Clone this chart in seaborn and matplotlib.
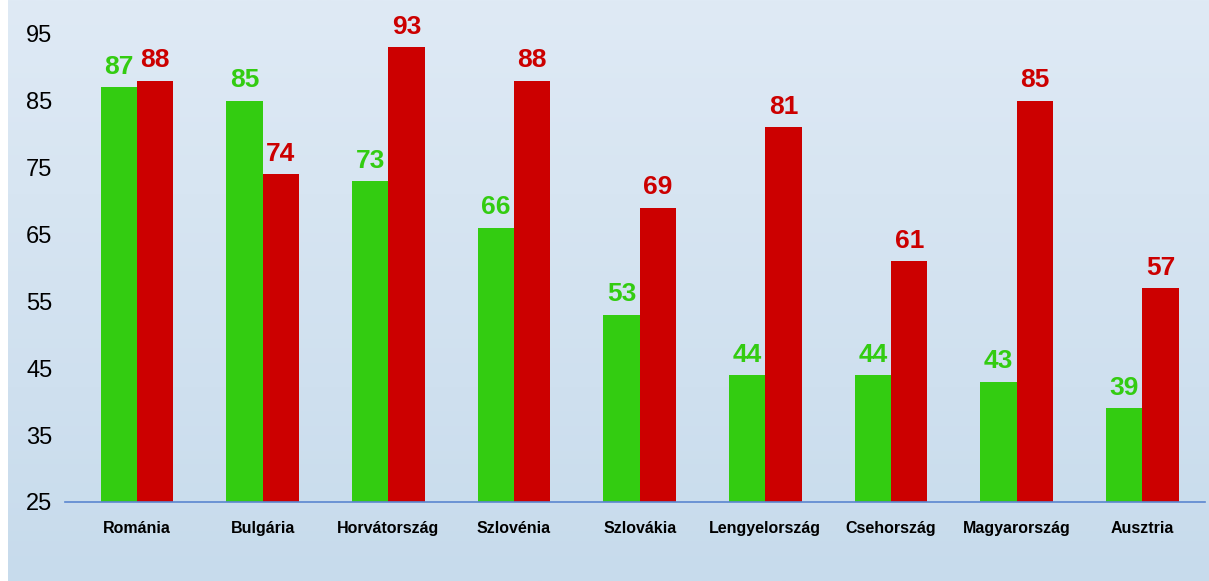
import numpy as np
import pandas as pd
import seaborn as sns
import matplotlib.pyplot as plt
from matplotlib.colors import LinearSegmentedColormap

countries = ["Románia", "Bulgária", "Horvátország", "Szlovénia", "Szlovákia",
             "Lengyelország", "Csehország", "Magyarország", "Ausztria"]
green_vals = [87, 85, 73, 66, 53, 44, 44, 43, 39]
red_vals = [88, 74, 93, 88, 69, 81, 61, 85, 57]
series = ["zöld", "piros"]
yticks = [25, 35, 45, 55, 65, 75, 85, 95]

df = pd.DataFrame({
    "orszag": countries * 2,
    "ertek": green_vals + red_vals,
    "sor": [series[0]] * len(countries) + [series[1]] * len(countries),
})

sns.set_style("white")
plt.rcParams["font.family"] = ["Liberation Sans", "DejaVu Sans"]

fig = plt.figure(figsize=(12.09, 5.81), dpi=100)
fig.patch.set_facecolor("white")

# gradient background
bg = fig.add_axes([0.007, 0, 0.993, 1], zorder=0)
grad = np.linspace(0, 1, 256).reshape(-1, 1)
cmap = LinearSegmentedColormap.from_list("bg", ["#dfeaf5", "#c7dbec"])
bg.imshow(grad, aspect="auto", cmap=cmap, extent=[0, 1, 0, 1], origin="upper")
bg.axis("off")

ax = fig.add_axes([0.0538, 0.136, 0.943, 0.806], zorder=1)
ax.patch.set_alpha(0)
colors = {"zöld": "#33cc11", "piros": "#cc0000"}
sns.barplot(data=df, x="orszag", y="ertek", hue="sor", palette=colors,
            width=0.58, saturation=1, linewidth=0, ax=ax, legend=False)

for cont, c in zip(ax.containers, ["#33cc11", "#cc0000"]):
    ax.bar_label(cont, padding=6, color=c, fontsize=19, fontweight="bold")

ax.set_ylim(25, 95)
ax.set_xlim(-0.573, 8.5)
ax.set_yticks(yticks)
ax.set_xlabel("")
ax.set_ylabel("")
ax.tick_params(axis="y", length=0, labelsize=17, pad=9, labelcolor="black")
ax.tick_params(axis="x", length=0, labelsize=11.5, pad=14, labelcolor="black")
for lab in ax.get_yticklabels():
    lab.set_family(["Liberation Sans Narrow", "Liberation Sans", "DejaVu Sans"])
for lab in ax.get_xticklabels():
    lab.set_fontweight("bold")
for s in ["top", "right", "left"]:
    ax.spines[s].set_visible(False)
ax.spines["bottom"].set_color("#5b86d0")
ax.spines["bottom"].set_linewidth(1.2)

fig.savefig("out.png", dpi=100, facecolor=fig.get_facecolor())
